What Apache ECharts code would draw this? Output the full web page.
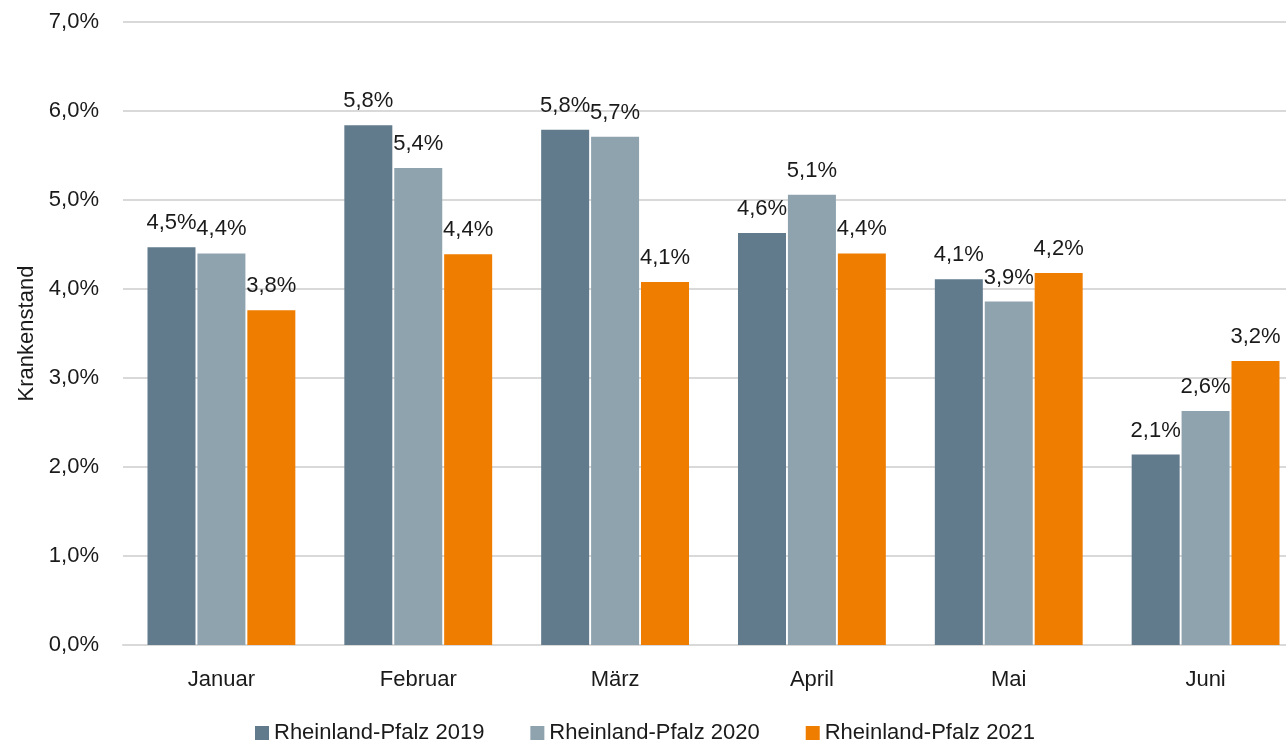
<!DOCTYPE html>
<html>
<head>
<meta charset="utf-8">
<script src="https://cdn.jsdelivr.net/npm/echarts@6/dist/echarts.min.js"></script>
<style>
html,body{margin:0;padding:0;background:#fff;overflow:hidden;width:1286px;height:749px;}
#chart{width:1304px;height:749px;}
</style>
</head>
<body>
<div id="chart"></div>
<script>
const categories = ['Januar', 'Februar', 'März', 'April', 'Mai', 'Juni'];
const seriesNames = ['Rheinland-Pfalz 2019', 'Rheinland-Pfalz 2020', 'Rheinland-Pfalz 2021'];
const values2019 = [4.47, 5.84, 5.79, 4.63, 4.11, 2.14];
const values2020 = [4.40, 5.36, 5.71, 5.06, 3.86, 2.63];
const values2021 = [3.76, 4.39, 4.08, 4.40, 4.18, 3.19];
const colors = ['#627B8C', '#8FA3AF', '#EF7D00'];
const yTicks = [0, 1, 2, 3, 4, 5, 6, 7];

const FONT = "'Liberation Sans', Arial, sans-serif";
const fmt = v => v.toFixed(1).replace('.', ',') + '%';

const chart = echarts.init(document.getElementById('chart'), null, {renderer: 'canvas'});
const allValues = [values2019, values2020, values2021];
chart.setOption({
  animation: false,
  backgroundColor: '#ffffff',
  textStyle: {fontFamily: FONT},
  grid: {left: 123, right: 0, top: 22, bottom: 104, containLabel: false},
  legend: {
    bottom: 0,
    left: 250,
    itemWidth: 14,
    itemHeight: 14,
    itemGap: 46,
    icon: 'rect',
    textStyle: {fontSize: 22, color: '#1a1a1a', fontFamily: FONT},
    data: seriesNames
  },
  xAxis: {
    type: 'category',
    data: categories,
    axisTick: {show: false},
    axisLine: {show: true, lineStyle: {color: '#D9D9D9', width: 2}},
    axisLabel: {fontSize: 22, color: '#1a1a1a', margin: 24, fontFamily: FONT}
  },
  yAxis: {
    type: 'value',
    min: yTicks[0],
    max: yTicks[yTicks.length - 1],
    interval: 1,
    name: 'Krankenstand',
    nameLocation: 'middle',
    nameGap: 78,
    nameRotate: 90,
    nameTextStyle: {fontSize: 22, color: '#1a1a1a', fontFamily: FONT},
    axisLine: {show: false},
    axisTick: {show: false},
    splitLine: {lineStyle: {color: '#D9D9D9', width: 2}},
    axisLabel: {fontSize: 22, color: '#1a1a1a', margin: 24, fontFamily: FONT, formatter: v => fmt(v)}
  },
  series: seriesNames.map((name, i) => ({
    name: name,
    type: 'bar',
    data: allValues[i],
    barWidth: 48,
    barGap: '4%',
    itemStyle: {color: colors[i]},
    label: {
      show: true,
      position: 'top',
      distance: 13,
      fontSize: 22,
      color: '#1a1a1a',
      fontFamily: FONT,
      formatter: p => fmt(p.value)
    }
  }))
});
</script>
</body>
</html>
